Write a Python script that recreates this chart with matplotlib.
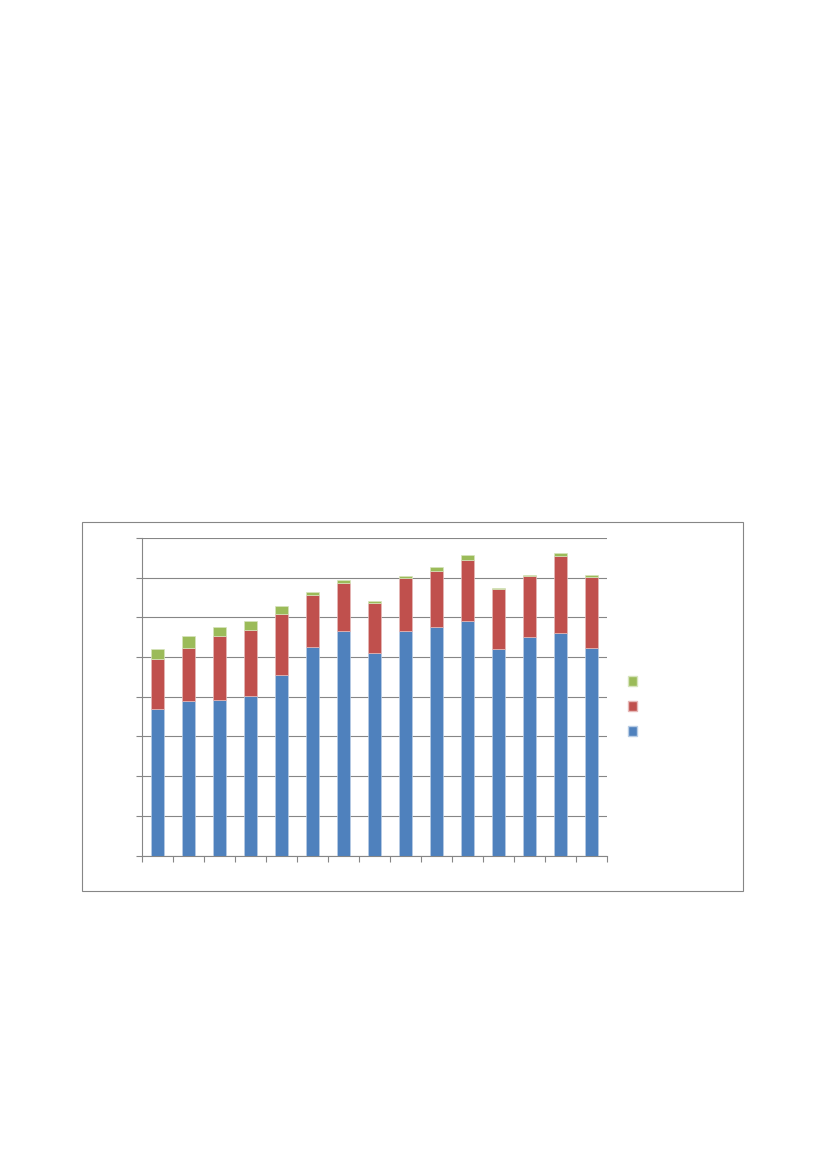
import matplotlib
matplotlib.use("Agg")
import matplotlib.pyplot as plt
import numpy as np
from matplotlib.patches import Rectangle, Patch

# values (axis runs 0..80, gridline every 10)
blue = [36.9, 39.0, 39.3, 40.2, 45.4, 52.6, 56.6, 51.0, 56.6, 57.6, 59.0, 52.1, 55.0, 56.1, 52.4]
red_top = [49.5, 52.4, 55.3, 56.9, 60.9, 65.7, 68.7, 63.7, 69.9, 71.7, 74.5, 67.1, 70.5, 75.5, 70.2]
green_top = [52.1, 55.3, 57.6, 59.0, 62.9, 66.5, 69.5, 64.2, 70.5, 72.6, 75.7, 67.4, 70.8, 76.2, 70.8]

blue = np.array(blue)
red = np.array(red_top) - blue
green = np.array(green_top) - np.array(red_top)

c_blue, c_red, c_green = "#4F81BD", "#C0504D", "#9BBB59"
grid_c = "#868686"

fig = plt.figure(figsize=(8.27, 11.69), dpi=100)

# outer chart frame
fig.patches.append(Rectangle((82 / 827, 1 - 891 / 1169), 661 / 827, 369 / 1169,
                             transform=fig.transFigure, fill=False,
                             edgecolor=grid_c, linewidth=0.8))

ax = fig.add_axes([142.3 / 827, 1 - 855.5 / 1169, 464.4 / 827, 317.5 / 1169])
x = np.arange(len(blue))
w = 0.41
ax.bar(x, blue, w, color=c_blue, edgecolor="#B9CDE5", linewidth=0.5, zorder=3)
ax.bar(x, red, w, bottom=blue, color=c_red, edgecolor="#E6B9B8", linewidth=0.5, zorder=3)
ax.bar(x, green, w, bottom=red_top, color=c_green, edgecolor="#D7E4BD", linewidth=0.5, zorder=3)

ax.set_xlim(-0.5, len(blue) - 0.5)
ax.set_ylim(0, 80)
ax.set_yticks(np.arange(0, 81, 10))
ax.set_xticks(np.arange(-0.5, len(blue), 1))
ax.set_yticklabels([])
ax.set_xticklabels([])
ax.yaxis.grid(True, color=grid_c, linewidth=0.8, zorder=0)
ax.set_axisbelow(True)
ax.tick_params(axis="both", direction="out", length=4, width=0.8, color=grid_c)
for s in ["top", "right"]:
    ax.spines[s].set_visible(False)
for s in ["left", "bottom"]:
    ax.spines[s].set_color(grid_c)
    ax.spines[s].set_linewidth(0.8)

handles = [Patch(facecolor=c_green, edgecolor="#D7E4BD"),
           Patch(facecolor=c_red, edgecolor="#E6B9B8"),
           Patch(facecolor=c_blue, edgecolor="#B9CDE5")]
fig.legend(handles, ["", "", ""], loc="center left",
           bbox_to_anchor=(621 / 827, 1 - 707 / 1169), frameon=False,
           fontsize=10, handlelength=0.68, handleheight=0.68,
           labelspacing=0.8, borderpad=0, handletextpad=0.3)

fig.savefig("out.png", dpi=100)
